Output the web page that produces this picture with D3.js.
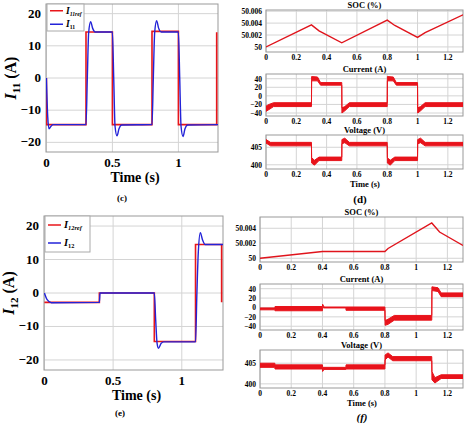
<!DOCTYPE html>
<html><head><meta charset="utf-8">
<script src="https://cdn.jsdelivr.net/npm/d3@7"></script>
<style>body{margin:0;background:#fff}text{font-family:"Liberation Serif",serif;font-weight:bold}</style>
</head><body><svg id="fig" width="474" height="426"></svg>
<script>
// panel (c)
let i11Ref = [[0,0],[0.002,-14.5],[0.3,-14.5],[0.3,14.3],[0.5,14.3],[0.5,-14.5],[0.8,-14.5],[0.8,14.5],[1.0,14.5],[1.0,-14.5],[1.29,-14.5],[1.29,14.2]];
let i11 = [[0,0],[0.01,-12],[0.02,-15.8],[0.035,-15],[0.05,-14.5],[0.3,-14.5],[0.31,0],[0.32,14],[0.335,17.5],[0.35,15.5],[0.37,14.3],[0.5,14.3],[0.51,0],[0.52,-15],[0.535,-18],[0.55,-15.8],[0.57,-14.6],[0.8,-14.5],[0.81,0],[0.82,14],[0.835,17.8],[0.85,15.5],[0.87,14.3],[1.0,14.3],[1.01,0],[1.02,-15],[1.035,-18.2],[1.05,-15.8],[1.07,-14.6],[1.3,-14.5]];
// panel (e)
let i12Ref = [[0,-2.8],[0.4,-2.8],[0.4,0],[0.8,0],[0.8,-14.5],[1.1,-14.5],[1.1,14.5],[1.29,14.5],[1.29,-2.8]];
let i12 = [[0,0],[0.02,-2],[0.05,-2.9],[0.4,-2.8],[0.405,0],[0.8,0],[0.81,-8],[0.82,-15],[0.83,-16.5],[0.85,-15],[0.87,-14.6],[1.1,-14.6],[1.11,0],[1.12,12],[1.135,18],[1.15,16],[1.17,14.5],[1.3,14.5]];
// panel (d) battery: [t, low, high]
let socD = [[0,50,50],[0.3,50.0037,50.0037],[0.35,50.0027,50.0027],[0.5,50.0007,50.0007],[0.8,50.0045,50.0045],[0.85,50.0036,50.0036],[1.0,50.0016,50.0016],[1.05,50.0024,50.0024],[1.3,50.0054,50.0054]];
let curD = [[0,-36,-24],[0.02,-32,-20],[0.05,-25,-16],[0.3,-25,-16],[0.301,35,45],[0.34,35,44],[0.36,25,31],[0.5,25,31],[0.501,-40,-28],[0.52,-35,-25],[0.55,-25,-16],[0.8,-25,-16],[0.801,35,45],[0.84,35,44],[0.86,25,31],[1.0,25,31],[1.001,-40,-28],[1.02,-35,-25],[1.05,-25,-16],[1.3,-25,-16]];
let volD = [[0,406.2,407.2],[0.03,405.4,406.4],[0.3,405.4,406.4],[0.301,400.5,402],[0.32,399.9,401.3],[0.35,401.2,402.2],[0.5,401.2,402.2],[0.501,406,407.2],[0.52,406.3,407.6],[0.55,405.4,406.4],[0.8,405.4,406.4],[0.801,400.5,402],[0.82,399.9,401.3],[0.85,401.2,402.2],[1.0,401.2,402.2],[1.001,406,407.2],[1.02,406.3,407.6],[1.05,405.4,406.4],[1.3,405.4,406.4]];
// panel (f) battery
let socF = [[0,50,50],[0.4,50.0009,50.0009],[0.8,50.0009,50.0009],[0.82,50.0013,50.0013],[1.1,50.0047,50.0047],[1.15,50.0035,50.0035],[1.3,50.0017,50.0017]];
let curF = [[0,-5,-1],[0.095,-5,-1],[0.096,-7,2],[0.4,-7,2],[0.401,0,7],[0.41,-1,1],[0.55,-1,1],[0.551,-6,1],[0.8,-6,1],[0.801,-38,-28],[0.82,-36,-25],[0.86,-27,-17],[1.1,-27,-17],[1.101,36,44],[1.14,34,42],[1.16,23,31],[1.3,23,31]];
let volF = [[0,404,405],[0.095,404,405],[0.096,403.6,404.6],[0.4,403.6,404.6],[0.401,403,404],[0.41,403.5,404],[0.55,403.5,404],[0.551,403.6,404.6],[0.8,403.6,404.6],[0.801,405.8,407],[0.82,406.5,407.5],[0.85,405.6,406.6],[1.1,405.6,406.6],[1.101,401,403],[1.12,400.2,401.5],[1.16,401.3,402.2],[1.3,401.3,402.2]];

let bigXTicks = [0, 0.5, 1];
let smallXTicks = [0, 0.2, 0.4, 0.6, 0.8, 1, 1.2];

let svg = d3.select("#fig");
let gridColor = "#d4d4d4";

function frame(g, x, y, xt, yt) {
    g.selectAll(".gx").data(xt).join("line").attr("class","gx")
        .attr("x1", d => x(d)).attr("x2", d => x(d))
        .attr("y1", y.range()[0]).attr("y2", y.range()[1]).attr("stroke", gridColor);
    g.selectAll(".gy").data(yt).join("line").attr("class","gy")
        .attr("y1", d => y(d)).attr("y2", d => y(d))
        .attr("x1", x.range()[0]).attr("x2", x.range()[1]).attr("stroke", gridColor);
    g.append("rect").attr("x", x.range()[0]).attr("y", y.range()[1])
        .attr("width", x.range()[1]-x.range()[0]).attr("height", y.range()[0]-y.range()[1])
        .attr("fill","none").attr("stroke","#999");
}

let clipN = 0;
function clip(g, x, y) {
    let id = "c" + (clipN++);
    g.append("clipPath").attr("id", id).append("rect")
        .attr("x", x.range()[0]).attr("y", y.range()[1])
        .attr("width", x.range()[1]-x.range()[0]).attr("height", y.range()[0]-y.range()[1]);
    return "url(#" + id + ")";
}

function bigPanel(opt) {
    let g = svg.append("g");
    let x = d3.scaleLinear().domain([-0.003, 1.3]).range(opt.xr);
    let y = d3.scaleLinear().domain([-23, 23]).range(opt.yr);
    frame(g, x, y, bigXTicks, [-20,-10,0,10,20]);
    let cp = clip(g, x, y);
    let line = d3.line().x(d => x(d[0])).y(d => y(d[1]));
    g.append("path").datum(opt.ref).attr("d", line).attr("fill","none")
        .attr("stroke","#e8161b").attr("stroke-width",1.6).attr("clip-path", cp);
    g.append("path").datum(opt.act).attr("d", line.curve(d3.curveMonotoneX)).attr("fill","none")
        .attr("stroke","#2323d8").attr("stroke-width",1.4).attr("clip-path", cp);
    g.selectAll(".yl").data([-20,-10,0,10,20]).join("text")
        .attr("x", x.range()[0]-5).attr("y", d => y(d)+4).attr("text-anchor","end")
        .attr("font-size",13).text(d => d < 0 ? "\u2212" + (-d) : d);
    g.selectAll(".xl").data(bigXTicks).join("text")
        .attr("x", d => x(d)).attr("y", y.range()[0]+15).attr("text-anchor","middle")
        .attr("font-size",13).text(d => d);
    g.append("text").attr("x", (x.range()[0]+x.range()[1])/2 + 3).attr("y", y.range()[0]+30)
        .attr("text-anchor","middle").attr("font-size",14).text("Time (s)");
    let yl = g.append("text").attr("transform", `translate(${x.range()[0]-30},${y(0)}) rotate(-90)`)
        .attr("text-anchor","middle").attr("font-size",16);
    yl.append("tspan").attr("font-style","italic").text("I");
    yl.append("tspan").attr("font-size",11).attr("dy",4).text(opt.sub);
    yl.append("tspan").attr("dy",-4).text(" (A)");
    g.append("text").attr("x", opt.capX).attr("y", opt.capY).attr("text-anchor","middle")
        .attr("font-size",9).attr("font-weight","normal").text(opt.cap);
    // legend
    let lg = g.append("g").attr("transform", `translate(${x.range()[0]+1},${y.range()[1]})`);
    lg.append("rect").attr("width", opt.lw).attr("height", opt.lh).attr("fill","#fff").attr("stroke","#aaa");
    [["#e8161b", opt.sub + "ref"], ["#2323d8", opt.sub]].forEach((it, i) => {
        let yy = opt.lh * (i*2+1)/4;
        lg.append("line").attr("x1",3).attr("x2",16).attr("y1",yy).attr("y2",yy).attr("stroke",it[0]).attr("stroke-width",1.5);
        let t = lg.append("text").attr("x",19).attr("y",yy+3).attr("font-size",opt.lf);
        t.append("tspan").attr("font-style","italic").text("I");
        t.append("tspan").attr("font-size",opt.lf*0.6).attr("dy",2).attr("font-style", i==0 ? "italic" : "normal").text(it[1]);
    });
}

function smallPanel(opt) {
    let g = svg.append("g");
    let x = d3.scaleLinear().domain([0, 1.3]).range(opt.xr);
    let y = d3.scaleLinear().domain(opt.yd).range(opt.yr);
    frame(g, x, y, smallXTicks, opt.yt);
    let cp = clip(g, x, y);
    let band = opt.data[0][1] === opt.data[0][2];
    if (band) {
        g.append("path").datum(opt.data)
            .attr("d", d3.line().x(d => x(d[0])).y(d => y(d[1])))
            .attr("fill","none").attr("stroke","#e0141c").attr("stroke-width",1.4).attr("clip-path", cp);
    } else {
        g.append("path").datum(opt.data)
            .attr("d", d3.area().x(d => x(d[0])).y0(d => y(d[1])).y1(d => y(d[2])))
            .attr("fill","#e8131b").attr("stroke","#e8131b").attr("stroke-width",1).attr("clip-path", cp);
    }
    g.selectAll(".yl").data(opt.yt).join("text")
        .attr("x", x.range()[0]-4).attr("y", d => y(d)+3).attr("text-anchor","end")
        .attr("font-size",7.5).text(opt.fmt);
    g.selectAll(".xl").data(smallXTicks).join("text")
        .attr("x", d => x(d)).attr("y", y.range()[0]+8).attr("text-anchor","middle")
        .attr("font-size",7.5).text(d => d);
    g.append("text").attr("x", (x.range()[0]+x.range()[1])/2).attr("y", y.range()[1]-2)
        .attr("text-anchor","middle").attr("font-size",8.5).text(opt.title);
}

bigPanel({xr:[46,218], yr:[152,4], ref:i11Ref, act:i11, sub:"11", cap:"(c)", capX:122, capY:201, lw:37, lh:27, lf:9.5});
bigPanel({xr:[44,223], yr:[370,216], ref:i12Ref, act:i12, sub:"12", cap:"(e)", capX:120, capY:416, lw:45, lh:36, lf:10.5});

let socFmt = d => d === 50 ? "50" : d.toFixed(3);
let sgn = d => d < 0 ? "\u2212" + (-d) : d;
smallPanel({xr:[266,463], yr:[52,10], yd:[49.99915,50.0062], yt:[50,50.002,50.004,50.006], fmt:socFmt, data:socD, title:"SOC (%)"});
smallPanel({xr:[266,463], yr:[116,74], yd:[-47,51], yt:[-40,-20,0,20,40], fmt:sgn, data:curD, title:"Current (A)"});
smallPanel({xr:[266,463], yr:[169,135], yd:[398.8,408.5], yt:[400,405], fmt:d => d, data:volD, title:"Voltage (V)"});
svg.append("text").attr("x",365).attr("y",187).attr("text-anchor","middle").attr("font-size",8.5).text("Time (s)");
svg.append("text").attr("x",360).attr("y",203).attr("text-anchor","middle").attr("font-size",11).attr("font-weight","normal").text("(d)");

smallPanel({xr:[260,463], yr:[262,217], yd:[49.9995,50.0055], yt:[50,50.002,50.004], fmt:socFmt, data:socF, title:"SOC (%)"});
smallPanel({xr:[260,463], yr:[330,284], yd:[-48,50], yt:[-40,-20,0,20,40], fmt:sgn, data:curF, title:"Current (A)"});
smallPanel({xr:[260,463], yr:[388,350], yd:[399,408.2], yt:[400,405], fmt:d => d, data:volF, title:"Voltage (V)"});
svg.append("text").attr("x",362).attr("y",406).attr("text-anchor","middle").attr("font-size",8.5).text("Time (s)");
svg.append("text").attr("x",362).attr("y",421).attr("text-anchor","middle").attr("font-size",11).attr("font-weight","normal").attr("font-style","italic").text("(f)");
</script></body></html>
